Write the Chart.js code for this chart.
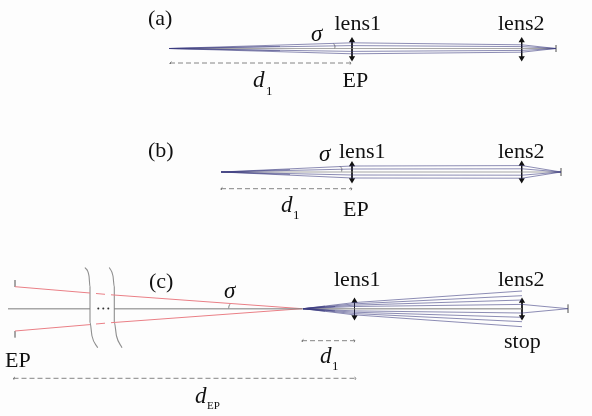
<!DOCTYPE html>
<html><head><meta charset="utf-8">
<script src="https://cdn.jsdelivr.net/npm/chart.js@4"></script>
<style>html,body{margin:0;padding:0;background:#fdfdfd}canvas{display:block}</style>
</head><body><canvas id="c" width="592" height="416"></canvas>
<script>
// ---- optical stations along the axis and ray heights at each station ----
const stationsA = [169, 352, 522, 556];
const raysA = [
  [48.5, 42.8, 44.8, 48.5],
  [48.5, 45.6, 46.6, 48.5],
  [48.5, 51.4, 50.4, 48.5],
  [48.5, 53.8, 52.2, 48.5]
];
const axisA = [48.5, 48.5, 48.5, 48.5];
const wedgeA = [[169, 48.5], [290, 48.5]];
const wedgeWidthA = [[[169, 48.5], [280, 46.3]], [[169, 48.5], [280, 50.7]]];

const stationsB = [221, 352, 522, 561];
const raysB = [
  [172, 166, 165.6, 172],
  [172, 169, 168.8, 172],
  [172, 175, 175.2, 172],
  [172, 178, 178.2, 172]
];
const axisB = [172, 172, 172, 172];
const wedgeWidthB = [[[221, 172], [290, 169.6]], [[221, 172], [290, 174.4]]];

const stationsC = [303, 354, 522];
const raysC = [
  [308.7, 302.6, 291],
  [308.7, 303.9, 295.7],
  [308.7, 305.2, 300],
  [308.7, 312.2, 317.3],
  [308.7, 313.5, 321.7],
  [308.7, 314.8, 326.7]
];
const innerStationsC = [303, 354, 522, 568];
const innerRaysC = [
  [308.7, 306.5, 304.4, 308.7],
  [308.7, 310.9, 313, 308.7]
];
const wedgeWidthC = [[[303, 308.7], [335, 306.5]], [[303, 308.7], [335, 310.9]], [[303, 308.7], [325, 306.2]], [[303, 308.7], [325, 311.2]]];
const axisCLeftX = [8, 90];
const axisCLeftY = [308.7, 308.7];
const axisCRightX = [114, 522];
const axisCRightY = [308.7, 308.7];

// chief (red) rays, with the break across the omitted section
const redSegmentsTop = [
  [[15, 286.7], [90, 293]],
  [[96, 293.5], [105, 294.3]],
  [[111, 294.8], [302, 308.7]]
];
const redSegmentsBottom = [
  [[15, 331], [90, 324.6]],
  [[96, 324], [105, 323.2]],
  [[111, 322.7], [302, 308.7]]
];

const lensPositions = [
  [352, 37.5, 61], [521.7, 37.5, 61],
  [352, 161.5, 183], [521.7, 161, 183],
  [354.5, 298, 320], [522, 298, 320]
];
const apertureTicks = [
  [556, 45, 52], [561, 168, 176], [568, 304.5, 313],
  [15, 280, 287], [15, 331, 337.5]
];
const dimensionLines = [
  [170, 351, 63], [221, 352, 188.7],
  [302, 355, 340.7], [13.5, 356, 378.3]
];
const angleArcs = [
  [[333.5, 43.6], [335, 46], [334.6, 48.5]],
  [[340, 166.4], [341.8, 168.6], [341.6, 171.5]],
  [[230, 304.2], [229, 306], [228.7, 308.5]]
];
const curvedSections = [
  [[85, 267.5], [89, 276], [90, 287], [90, 322], [92, 336], [97.7, 347.7]],
  [[109.3, 267.5], [113, 276], [114.3, 287], [114.3, 322], [116.5, 336], [122, 347.7]]
];
const ellipsisDots = [[98.3, 308.5], [103.3, 308.5], [108.3, 308.5]];

// ---- labels ----
const labelText = ["(a)","lens1","lens2","EP","(b)","lens1","lens2","EP","(c)","lens1","lens2","stop","EP"];
const labelX    = [148,  334.5, 498, 342.5, 148,  339,  498, 343, 149, 334, 498, 504, 5];
const labelY    = [25,   30,    30,  87,    157,  158,  158, 216, 288, 286, 286, 348, 367];
const italicText = ["σ","σ","σ","d","d","d","d"];
const italicX    = [311,319,224,253,281,320,195];
const italicY    = [41,160.5,298,87,212,363,403];
const subText = ["1","1","1","EP"];
const subX    = [266,293,332,207];
const subY    = [95,219,370,409];

// ---- styling ----
const RAY = "rgba(58,58,128,0.58)", GREY = "rgba(130,130,130,0.7)", RED = "#ea7f86";
const pts = (xs, ys) => xs.map((x, i) => ({x, y: ys[i]}));
const pairs = p => p.map(([x, y]) => ({x, y}));
const line = (data, color, width, extra) => Object.assign({
  type: "line", data, borderColor: color, borderWidth: width, pointRadius: 0, fill: false, tension: 0
}, extra || {});

const datasets = [];
raysA.forEach(r => datasets.push(line(pts(stationsA, r), RAY, 1)));
raysB.forEach(r => datasets.push(line(pts(stationsB, r), RAY, 1)));
raysC.forEach(r => datasets.push(line(pts(stationsC, r), RAY, 1)));
innerRaysC.forEach(r => datasets.push(line(pts(innerStationsC, r), RAY, 1)));
wedgeWidthA.concat(wedgeWidthB, wedgeWidthC).forEach(s => datasets.push(line(pairs(s), RAY, 1)));
[[stationsA, axisA], [stationsB, axisB]].forEach(([x, y]) => datasets.push(line(pts(x, y), GREY, 1.2)));
datasets.push(line(pts(axisCLeftX, axisCLeftY), GREY, 1.5));
datasets.push(line(pts(axisCRightX, axisCRightY), GREY, 1.5));
redSegmentsTop.concat(redSegmentsBottom).forEach(s => datasets.push(line(pairs(s), RED, 1)));
curvedSections.forEach(s => datasets.push(line(pairs(s), "#8f8f8f", 1.1, {tension: 0.4, cubicInterpolationMode: "monotone"})));
datasets.push({type: "scatter", data: pairs(ellipsisDots), pointRadius: 1, pointBackgroundColor: "#333", pointBorderWidth: 0, showLine: false});
lensPositions.forEach(([x, y0, y1]) => datasets.push(line([{x, y: y0 + 3}, {x, y: y1 - 3}], "#111", 1, {
  pointStyle: "triangle", pointRadius: 3.6, pointRotation: [0, 180],
  pointBackgroundColor: "#111", pointBorderWidth: 0
})));
apertureTicks.forEach(([x, y0, y1]) => datasets.push(line([{x, y: y0}, {x, y: y1}], "#999", 1)));
dimensionLines.forEach(([x0, x1, y]) => {
  datasets.push(line([{x: x0, y}, {x: x1, y}], "#777", 0.9, {borderDash: [5, 3]}));
  datasets.push(line([{x: x0 + 1.5, y: y - 1.4}, {x: x0, y}, {x: x0 + 0.3, y: y + 1}], "#777", 0.9));
  datasets.push(line([{x: x1 - 1.5, y: y - 1.2}, {x: x1, y}, {x: x1 - 1, y: y + 1.6}], "#777", 0.9));
});
angleArcs.forEach(a => datasets.push(line(pairs(a), "#666", 0.8, {tension: 0.4})));

const textPlugin = {
  id: "diagramText",
  afterDatasetsDraw(chart) {
    const {ctx, scales: {x, y}} = chart;
    ctx.save();
    ctx.fillStyle = "#111";
    ctx.textBaseline = "alphabetic";
    ctx.textAlign = "left";
    const put = (t, px, py, font) => { ctx.font = font; ctx.fillText(t, x.getPixelForValue(px), y.getPixelForValue(py)); };
    labelText.forEach((t, i) => put(t, labelX[i], labelY[i], '22px "Liberation Serif"'));
    italicText.forEach((t, i) => put(t, italicX[i], italicY[i], 'italic 23px "Liberation Serif"'));
    subText.forEach((t, i) => put(t, subX[i], subY[i], (t === "1" ? 13 : 11) + 'px "Liberation Serif"'));
    ctx.restore();
  }
};

new Chart(document.getElementById("c"), {
  type: "line",
  data: {datasets},
  plugins: [textPlugin],
  options: {
    responsive: false, animation: false, events: [],
    layout: {padding: 0, autoPadding: false},
    plugins: {legend: {display: false}, tooltip: {enabled: false}, title: {display: false}},
    elements: {point: {hitRadius: 0}},
    scales: {
      x: {type: "linear", min: 0, max: 592, display: false},
      y: {type: "linear", min: 0, max: 416, reverse: true, display: false}
    }
  }
});
</script></body></html>
